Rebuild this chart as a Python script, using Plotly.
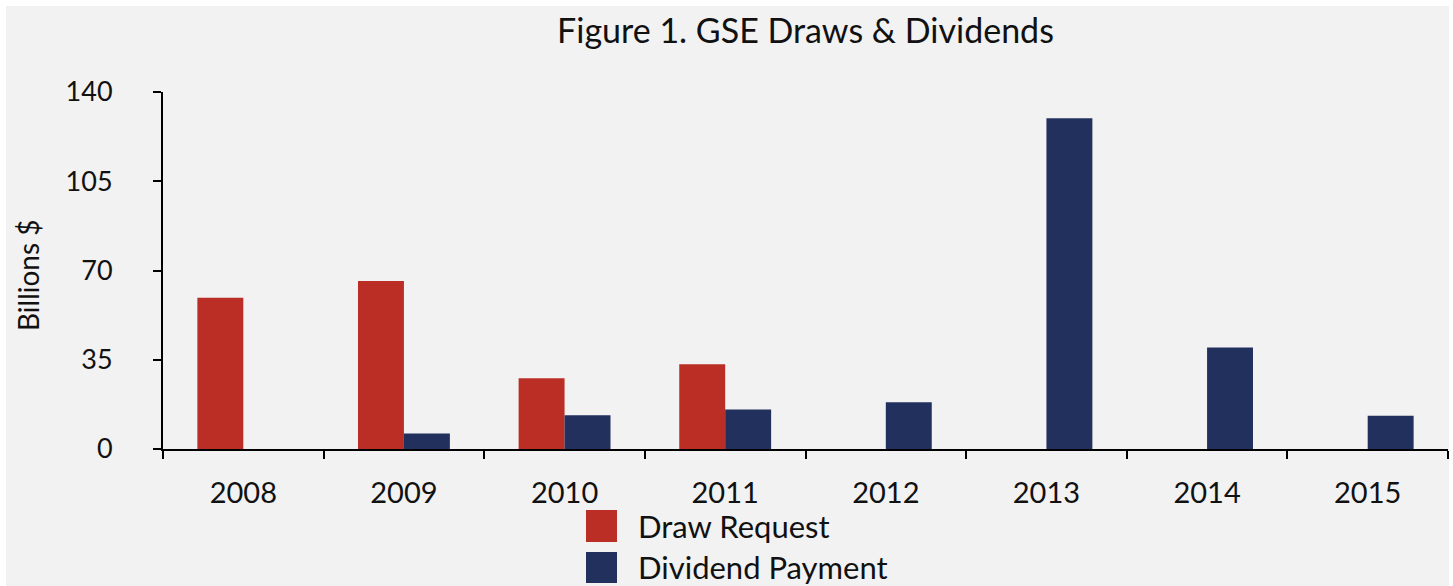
import plotly.graph_objects as go

years = ["2008", "2009", "2010", "2011", "2012", "2013", "2014", "2015"]
draw_request = [59.3, 65.9, 27.7, 33.2, 0, 0, 0, 0]
dividend_payment = [0, 6.1, 13.2, 15.5, 18.3, 129.7, 39.8, 13.0]
y_ticks = [0, 35, 70, 105, 140]

RED = "#bb2e26"
NAVY = "#22305e"
FONT = "Lato"

W, H = 1453, 586
ML, MR, MT, MB = 163, 5, 92, 137
PW = W - ML - MR
PH = H - MT - MB


def px_x(px):
    return (px - ML) / PW


def px_y(py):
    return (H - MB - py) / PH


fig = go.Figure()
fig.add_bar(x=years, y=draw_request, name="Draw Request",
            marker=dict(color=RED, line=dict(width=0)), showlegend=False)
fig.add_bar(x=years, y=dividend_payment, name="Dividend Payment",
            marker=dict(color=NAVY, line=dict(width=0)), showlegend=False)

shapes = [
    dict(type="rect", xref="paper", yref="paper", layer="below",
         x0=px_x(6), x1=px_x(1449), y0=px_y(600), y1=px_y(6),
         fillcolor="#f2f2f2", line=dict(width=0)),
    dict(type="rect", xref="paper", yref="paper",
         x0=px_x(586), x1=px_x(617), y0=px_y(542), y1=px_y(510),
         fillcolor=RED, line=dict(width=0)),
    dict(type="rect", xref="paper", yref="paper",
         x0=px_x(586), x1=px_x(617), y0=px_y(583), y1=px_y(552),
         fillcolor=NAVY, line=dict(width=0)),
]
annotations = [
    dict(text="Draw Request", xref="paper", yref="paper", x=px_x(636), y=px_y(526),
         xanchor="left", yanchor="middle", showarrow=False,
         font=dict(family=FONT, size=31, color="#111")),
    dict(text="Dividend Payment", xref="paper", yref="paper", x=px_x(636), y=px_y(567),
         xanchor="left", yanchor="middle", showarrow=False,
         font=dict(family=FONT, size=31, color="#111")),
    dict(text="Billions $", xref="paper", yref="paper", x=px_x(28), y=px_y(275),
         xanchor="center", yanchor="middle", textangle=-90, showarrow=False,
         font=dict(family=FONT, size=28, color="#111")),
]

fig.update_layout(
    width=W, height=H,
    margin=dict(l=ML, r=MR, t=MT, b=MB, pad=0),
    paper_bgcolor="white",
    plot_bgcolor="rgba(0,0,0,0)",
    barmode="group", bargap=0.428, bargroupgap=0,
    font=dict(family=FONT, color="#111"),
    title=dict(text="Figure 1. GSE Draws & Dividends", x=0.5, xref="paper",
               y=1 - 31 / H, yref="container", yanchor="middle",
               font=dict(family=FONT, size=34, color="#111")),
    xaxis=dict(type="category", showline=True, linecolor="black", linewidth=2,
               ticks="outside", ticklen=8, tickwidth=2, tickcolor="black",
               tickson="boundaries", showgrid=False, zeroline=False,
               tickfont=dict(family=FONT, size=29, color="#111"),
               ticklabelstandoff=17),
    yaxis=dict(range=[0, 140], tickvals=y_ticks, showline=True, linecolor="black",
               linewidth=2, ticks="outside", ticklen=8, tickwidth=2, tickcolor="black",
               showgrid=False, zeroline=False,
               tickfont=dict(family=FONT, size=27, color="#111"),
               ticklabelstandoff=35),
    shapes=shapes,
    annotations=annotations,
)

fig.write_html("out.html")
